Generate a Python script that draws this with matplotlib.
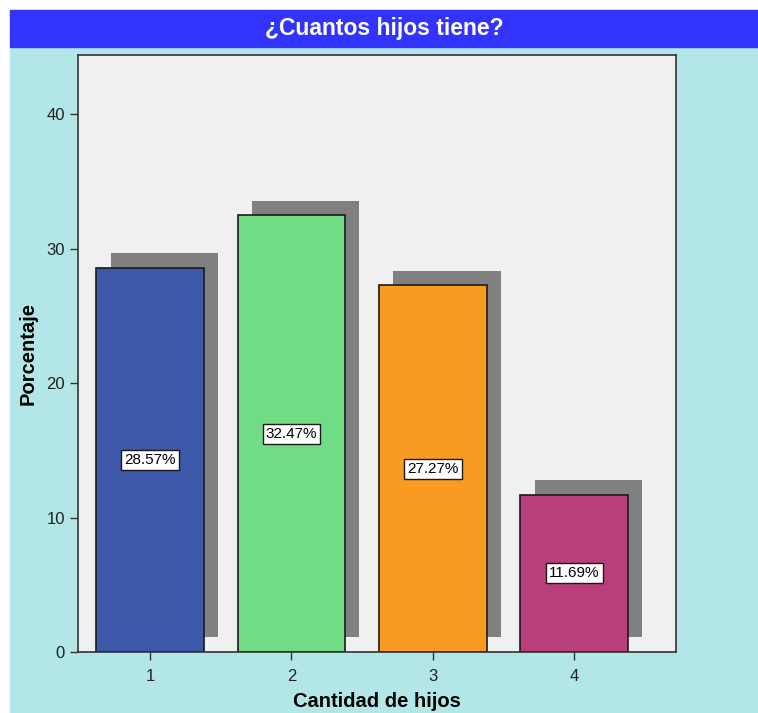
import matplotlib.pyplot as plt
from matplotlib.patches import Rectangle

plt.rcParams['font.family'] = ['Liberation Sans', 'DejaVu Sans']

categorias = [1, 2, 3, 4]
porcentajes = [28.57, 32.47, 27.27, 11.69]
etiquetas = ['28.57%', '32.47%', '27.27%', '11.69%']
colores = ['#3d58a8', '#70dd86', '#f99b20', '#b93e7c']

fig = plt.figure(figsize=(7.58, 7.13), dpi=100)
fig.patch.set_facecolor('white')

# fondo cian y banda del titulo
fig.patches.append(Rectangle((10 / 758, 0), 1, (713 - 47) / 713,
                             transform=fig.transFigure, color='#b3e6e7', zorder=-10))
fig.patches.append(Rectangle((10 / 758, (713 - 47) / 713), 1, 37 / 713,
                             transform=fig.transFigure, color='#3333ff', zorder=-10))
fig.text((10 + 758) / 2 / 758, (713 - 29) / 713, '¿Cuantos hijos tiene?', color='white',
         fontsize=16.5, fontweight='semibold', ha='center', va='center')

ax = fig.add_axes([78 / 758, 61 / 713, 598 / 758, 597 / 713])
ax.set_zorder(5)
ax.set_facecolor('#f0f0f0')

ancho = 0.76
for x, v, c, t in zip(categorias, porcentajes, colores, etiquetas):
    # sombra
    ax.bar(x + 0.1, v, width=ancho, bottom=1.1, color='#808080', zorder=1)
    ax.bar(x, v, width=ancho, color=c, edgecolor='#1a1a1a', linewidth=1.2, zorder=2)
    ax.text(x, v / 2, t, ha='center', va='center', fontsize=11, zorder=3,
            bbox=dict(boxstyle='square,pad=0.2', facecolor='white', edgecolor='#1a1a1a', linewidth=1))

ax.set_xlim(0.49, 4.72)
ax.set_ylim(0, 44.4)
ax.set_xticks(categorias)
ax.set_yticks([0, 10, 20, 30, 40])
ax.tick_params(axis='both', direction='out', length=6, width=1, color='#333333',
               labelsize=12, labelcolor='#222222')
ax.tick_params(axis='x', pad=6)
for s in ax.spines.values():
    s.set_color('#333333')
    s.set_linewidth(1.2)

ax.set_xlabel('Cantidad de hijos', fontsize=14.5, fontweight='bold', labelpad=6)
ax.set_ylabel('Porcentaje', fontsize=14.5, fontweight='bold', labelpad=6)

fig.savefig('out.png', dpi=100)
